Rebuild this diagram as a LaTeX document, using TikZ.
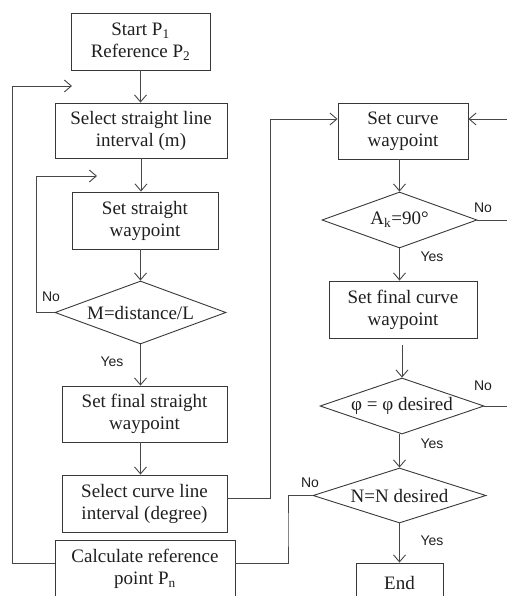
\documentclass[tikz,border=0pt]{standalone}
\usepackage{fontspec}
\setmainfont{Liberation Serif}
\newfontfamily\labfont{Liberation Sans}
\usetikzlibrary{shapes.geometric,arrows.meta}
\begin{document}
\begin{tikzpicture}[x=1pt,y=-1pt,line width=0.9pt,
  box/.style={draw=black!78, rectangle, align=center, inner sep=0pt, font=\fontsize{19}{22}\selectfont, text=black!88},
  dia/.style={draw=black!78, diamond, align=center, inner sep=-3pt, font=\fontsize{19}{22}\selectfont, text=black!88},
  conn/.style={draw=black!72, -{Straight Barb[length=7pt,width=12pt]}},
  plain/.style={draw=black!72},
  lab/.style={font=\labfont\fontsize{14}{16}\selectfont, text=black!88, inner sep=0pt}]
\useasboundingbox (0,0) rectangle (506,596);

% left column
\node[box, minimum width=139pt, minimum height=57pt] (start) at (140.5,41.5) {Start P\textsubscript{1}\\Reference P\textsubscript{2}};
\node[box, minimum width=172pt, minimum height=55pt] (sel) at (141,130.5) {Select straight line\\interval (m)};
\node[box, minimum width=146pt, minimum height=57pt] (sw) at (145,220.5) {Set straight\\waypoint};
\node[dia, aspect=2.71, minimum width=171pt, minimum height=63pt] (d1) at (140.5,312.5) {M=distance/L};
\node[box, minimum width=165pt, minimum height=56pt] (fsw) at (144.5,414) {Set final straight\\waypoint};
\node[box, minimum width=165pt, minimum height=57pt] (scl) at (144.5,503.5) {Select curve line\\interval (degree)};
\node[box, minimum width=180pt, minimum height=58pt] (calc) at (145,569) {Calculate reference\\point P\textsubscript{n}};

% right column
\node[box, minimum width=130pt, minimum height=56pt] (scw) at (403,131) {Set curve\\waypoint};
\node[dia, aspect=2.77, minimum width=155pt, minimum height=56pt] (d2) at (399.5,220) {A\textsubscript{k}=90°};
\node[box, minimum width=148pt, minimum height=57pt] (fcw) at (403,309.5) {Set final curve\\waypoint};
\node[dia, aspect=2.93, minimum width=164pt, minimum height=56pt] (d3) at (402,406) {φ = φ desired};
\node[dia, aspect=3.15, minimum width=173pt, minimum height=55pt] (d4) at (399.5,495.5) {N=N desired};
\node[box, minimum width=87pt, minimum height=40pt] (end) at (399.5,583) {End};

% helper coordinates
\coordinate (o2) at (12,86);
\coordinate (o3) at (72,86);
\coordinate (i2) at (36,176);
\coordinate (i3) at (97,176);
\coordinate (c1) at (270,119);
\coordinate (c2) at (288,530);
\coordinate (rin) at (512,119);
\coordinate (d2o) at (512,220);
\coordinate (d3o) at (512,406);

% vertical arrows
\draw[conn] (start.south) -- (start.south |- sel.north);
\draw[conn] (sel.south) -- (sel.south |- sw.north);
\draw[conn] (sw.south -| d1.north) -- (d1.north);
\draw[conn] (d1.south) -- (d1.south |- fsw.north);
\draw[conn] (fsw.south -| d1.south) -- (scl.north -| d1.south);
\draw[conn] (scw.south -| d2.north) -- (d2.north);
\draw[conn] (d2.south) -- (d2.south |- fcw.north);
\draw[conn] ([yshift=-7pt]fcw.south -| d3.north) -- (d3.north);
\draw[conn] (d3.south -| d4.north) -- (d4.north);
\draw[conn] (d4.south) -- (d4.south |- end.north);

% loops
\draw[conn] ([yshift=6pt]calc.west) -| (o2) -- (o3);
\draw[conn] (d1.west) -| (i2) -- (i3);
\draw[conn] ([yshift=5pt]scl.east) -| (c1) -- ([yshift=12pt]scw.west);
\draw[conn] (rin) -- ([yshift=12pt]scw.east);
\draw[plain] ([yshift=6pt]calc.east) -| (c2) |- (d4.west);
\draw[plain] (d2.east) -- (d2o);
\draw[plain] (d3.east) -- (d3o);

% labels
\node[lab] (no1) at (51,297) {No};
\node[lab] (yes1) at (112,362) {Yes};
\node[lab] (no2) at (483,208) {No};
\node[lab] (yes2) at (432,257) {Yes};
\node[lab] (no3) at (483,386) {No};
\node[lab] (yes3) at (432,444) {Yes};
\node[lab] (no4) at (310,483) {No};
\node[lab] (yes4) at (432,541) {Yes};
\end{tikzpicture}
\end{document}
